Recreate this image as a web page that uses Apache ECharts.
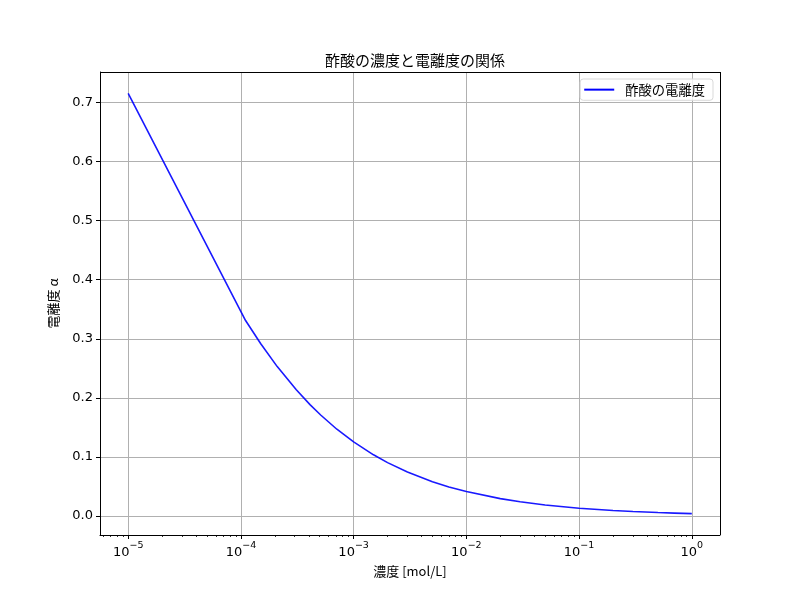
<!DOCTYPE html>
<html><head><meta charset="utf-8">
<script src="https://cdn.jsdelivr.net/npm/echarts@6/dist/echarts.min.js"></script>
<style>html,body{margin:0;padding:0;background:#fff}#c{width:800px;height:600px}</style>
</head><body><div id="c"></div>
<script>
// concentration [mol/L]
const concentration = [1e-5, 1.1e-4, 1.5e-4, 2.1e-4, 3.1e-4, 4.1e-4, 5.1e-4, 7.1e-4, 1e-3, 1.5e-3, 2e-3, 3e-3, 5e-3, 7e-3, 1e-2, 2e-2, 3e-2, 5e-2, 0.1, 0.2, 0.3, 0.5, 0.7, 1.0];
// degree of dissociation
const alpha = [0.7155, 0.331, 0.2916, 0.2530, 0.2137, 0.1887, 0.1711, 0.1470, 0.1255, 0.1037, 0.0905, 0.0745, 0.0582, 0.0494, 0.0415, 0.0296, 0.0242, 0.0188, 0.0133, 0.0094, 0.0077, 0.0060, 0.0051, 0.0042];
const xMajorTicks = [1e-5, 1e-4, 1e-3, 1e-2, 1e-1, 1];
const xExponents = ['−5', '−4', '−3', '−2', '−1', '0'];
const xMinorTicks = [6e-6, 7e-6, 8e-6, 9e-6,
  2e-5, 3e-5, 4e-5, 5e-5, 6e-5, 7e-5, 8e-5, 9e-5,
  2e-4, 3e-4, 4e-4, 5e-4, 6e-4, 7e-4, 8e-4, 9e-4,
  2e-3, 3e-3, 4e-3, 5e-3, 6e-3, 7e-3, 8e-3, 9e-3,
  2e-2, 3e-2, 4e-2, 5e-2, 6e-2, 7e-2, 8e-2, 9e-2,
  0.2, 0.3, 0.4, 0.5, 0.6, 0.7, 0.8, 0.9];
const yTicks = [0, 0.1, 0.2, 0.3, 0.4, 0.5, 0.6, 0.7];
const titleText = '酢酸の濃度と電離度の関係';
const seriesName = '酢酸の電離度';
const xName = '濃度 [mol/L]';
const yName = '電離度 α';

const JP = '"Noto Sans CJK JP", "DejaVu Sans", sans-serif';
const NUM = '"DejaVu Sans", sans-serif';
const xMin = Math.pow(10, -5.25), xMax = Math.pow(10, 0.25);
const yMin = -0.0320, yMax = 0.7516;

const chart = echarts.init(document.getElementById('c'), null, {renderer: 'canvas'});
const grid = {left: 100, right: 80, top: 72, bottom: 65, containLabel: false};
chart.setOption({
  animation: false,
  backgroundColor: '#ffffff',
  title: {
    text: titleText, left: 410, top: 48, textAlign: 'center',
    textStyle: {fontFamily: JP, fontSize: 15, fontWeight: 'normal', color: '#000'}
  },
  legend: {
    right: 87, top: 79, orient: 'vertical',
    itemWidth: 30, itemHeight: 2, itemGap: 4,
    padding: [4, 8, 4, 4],
    borderColor: '#d9d9d9', borderWidth: 1, borderRadius: 3,
    backgroundColor: 'rgba(255,255,255,0.8)',
    textStyle: {fontFamily: JP, fontSize: 13.3, color: '#000', padding: [0, 0, 0, 6]},
    icon: 'rect',
    data: [{name: seriesName, icon: 'rect'}]
  },
  grid: grid,
  xAxis: [{
    type: 'log', logBase: 10, min: xMin, max: xMax,
    name: xName, nameLocation: 'middle', nameGap: 30,
    nameTextStyle: {fontFamily: JP, fontSize: 13, color: '#000'},
    axisLine: {show: true, onZero: false, lineStyle: {color: '#000', width: 1}},
    axisTick: {show: true, inside: false, length: 4, lineStyle: {color: '#000', width: 1}, customValues: xMajorTicks},
    axisLabel: {
      show: true, margin: 6, customValues: xMajorTicks,
      formatter: function (v) {
        const e = Math.round(Math.log10(v));
        const idx = xMajorTicks.findIndex(t => Math.abs(Math.log10(t) - e) < 1e-6);
        if (idx < 0) return '';
        return '{b|10}{s|' + xExponents[idx] + '}';
      },
      rich: {
        b: {fontFamily: NUM, fontSize: 13, color: '#000', verticalAlign: 'bottom', lineHeight: 18},
        s: {fontFamily: NUM, fontSize: 9.5, color: '#000', verticalAlign: 'top', lineHeight: 18, padding: [0, 0, 8, 0]}
      }
    },
    splitLine: {show: true, lineStyle: {color: '#b0b0b0', width: 1}},
    minorTick: {show: false}, minorSplitLine: {show: false}
  }, {
    type: 'log', logBase: 10, min: xMin, max: xMax, position: 'bottom',
    gridIndex: 0,
    axisLine: {show: false, onZero: false},
    axisTick: {show: true, inside: false, length: 2, lineStyle: {color: '#000', width: 0.8}, customValues: xMinorTicks},
    axisLabel: {show: false},
    splitLine: {show: false}
  }],
  yAxis: {
    type: 'value', min: yMin, max: yMax,
    name: yName, nameLocation: 'middle', nameGap: 40, nameRotate: 90,
    nameTextStyle: {fontFamily: JP, fontSize: 13, color: '#000'},
    axisLine: {show: true, onZero: false, lineStyle: {color: '#000', width: 1}},
    axisTick: {show: true, inside: false, length: 4, lineStyle: {color: '#000'}, customValues: yTicks},
    axisLabel: {
      show: true, margin: 7, customValues: yTicks,
      fontFamily: NUM, fontSize: 13, color: '#000',
      formatter: v => v.toFixed(1)
    },
    splitLine: {show: true, lineStyle: {color: '#b0b0b0', width: 1}}
  },
  series: [{
    name: seriesName, type: 'line', xAxisIndex: 0,
    data: concentration.map((c, i) => [c, alpha[i]]),
    showSymbol: false, symbol: 'none', smooth: false,
    lineStyle: {color: '#0000ff', width: 1.6, opacity: 0.9},
    itemStyle: {color: '#0000ff'},
    clip: true
  }]
});
// frame on top and right
const r = {x: grid.left, y: grid.top, w: 800 - grid.left - grid.right, h: 600 - grid.top - grid.bottom};
chart.setOption({graphic: [
  {type: 'line', shape: {x1: r.x, y1: r.y + 0.5, x2: r.x + r.w, y2: r.y + 0.5}, style: {stroke: '#000', lineWidth: 1}, z: 10},
  {type: 'line', shape: {x1: r.x + r.w + 0.5, y1: r.y, x2: r.x + r.w + 0.5, y2: r.y + r.h}, style: {stroke: '#000', lineWidth: 1}, z: 10}
]});
</script></body></html>
